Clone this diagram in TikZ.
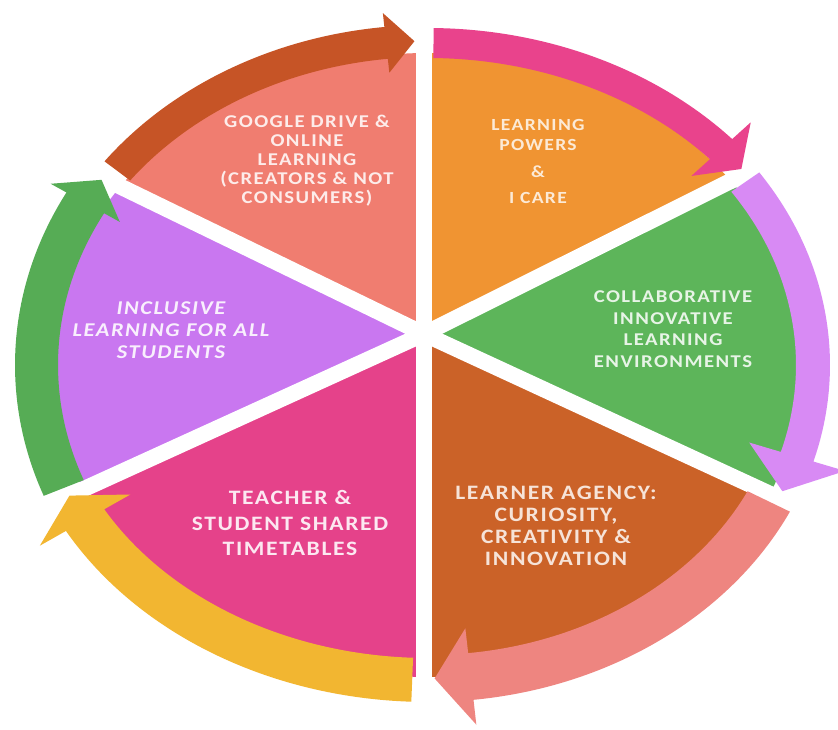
\documentclass[tikz,border=0pt]{standalone}
\usepackage{fontspec}
\newfontfamily\lblfont[LetterSpace=8, FakeStretch=1.15]{Carlito}

\definecolor{googlecol}{HTML}{F07D70}
\definecolor{powercol}{HTML}{F09432}
\definecolor{collabcol}{HTML}{5DB55A}
\definecolor{agencycol}{HTML}{CB6228}
\definecolor{timecol}{HTML}{E5428A}
\definecolor{inclcol}{HTML}{C977F0}
\definecolor{brownarrow}{HTML}{C65426}
\definecolor{magentaarrow}{HTML}{E9438C}
\definecolor{violetarrow}{HTML}{D88AF4}
\definecolor{salmonarrow}{HTML}{EE8580}
\definecolor{yellowarrow}{HTML}{F2B631}
\definecolor{greenarrow}{HTML}{56AC55}
\colorlet{googletext}{googlecol!15!white}
\colorlet{powertext}{powercol!20!white}
\colorlet{collabtext}{collabcol!15!white}
\colorlet{agencytext}{agencycol!18!white}
\colorlet{timetext}{timecol!12!white}
\colorlet{incltext}{inclcol!12!white}

% colour, inner x radius, inner y radius, width, head overhang, tail angle, tip angle, head base angle
\newcommand{\ringarrow}[8]{%
  \pgfmathsetmacro{\ax}{#2+#4}\pgfmathsetmacro{\ay}{#3+#4}%
  \pgfmathsetmacro{\mx}{#2+#4/2}\pgfmathsetmacro{\my}{#3+#4/2}%
  \pgfmathsetmacro{\hx}{#2-#5}\pgfmathsetmacro{\hy}{#3-#5}%
  \pgfmathsetmacro{\kx}{#2+#4+#5}\pgfmathsetmacro{\ky}{#3+#4+#5}%
  \fill[#1] ({#2*cos(#6)},{#3*sin(#6)})
    arc[start angle=#6, end angle=#8, x radius=#2, y radius=#3]
    -- ({\hx*cos(#8)},{\hy*sin(#8)}) -- ({\mx*cos(#7)},{\my*sin(#7)})
    -- ({\kx*cos(#8)},{\ky*sin(#8)}) -- ({\ax*cos(#8)},{\ay*sin(#8)})
    arc[start angle=#8, end angle=#6, x radius=\ax, y radius=\ay] -- cycle;}

\begin{document}
\begin{tikzpicture}[x=1pt, y=1pt,
    gapline/.style={white, line width=16pt},
    lbl/.style 2 args={align=center, font=\lblfont\bfseries\fontsize{#1}{#2}\selectfont},
    lblit/.style 2 args={align=center, font=\lblfont\bfseries\itshape\fontsize{#1}{#2}\selectfont}
    ]
  \useasboundingbox (-428,-365) rectangle (410,365);
  \fill[white] (-428,-365) rectangle (410,365);
  \coordinate (J) at (-4,31);

  % the six slices
  \begin{scope}
    \clip (0,0) ellipse [x radius=375, y radius=312];
    \fill[googlecol] (J) -- +(90:600) -- +(154.1:600) -- cycle;
    \fill[powercol] (J) -- +(26.5:600) -- +(90:600) -- cycle;
    \fill[collabcol] (J) -- +(-24.8:600) -- +(26.5:600) -- cycle;
    \fill[agencycol] (J) -- +(-90:600) -- +(-24.8:600) -- cycle;
    \fill[timecol] (J) -- +(204.5:600) -- +(270:600) -- cycle;
    \fill[inclcol] (J) -- +(154.1:600) -- +(204.5:600) -- cycle;
  \end{scope}
  \foreach \dir in {90,26.5,-24.8,-90,204.5,154.1}
    \draw[gapline] (J) -- +(\dir:420);

  % curved arrows round the rim
  \ringarrow{brownarrow}{372}{308}{32}{14}{143.2}{92}{96.2}
  \ringarrow{magentaarrow}{380}{307}{30}{25}{89.2}{37.5}{42.1}
  \ringarrow{violetarrow}{368}{306}{34}{33}{34.5}{-23}{-16.5}
  \ringarrow{salmonarrow}{355}{290}{47}{25}{-25.8}{-89}{-83.5}
  \ringarrow{yellowarrow}{372}{293}{44}{30}{267.7}{204.5}{209.5}
  \ringarrow{greenarrow}{370}{314}{43}{18}{201.5}{146.5}{151.1}

  \node[lbl={18}{19}, text=googletext] (google) at (-121,204)
    {GOOGLE DRIVE \&\\ONLINE\\LEARNING\\(CREATORS \& NOT\\CONSUMERS)};
  \node[lbl={17}{20}, text=powertext] (powers) at (110,204)
    {LEARNING\\POWERS\\[7pt]\&\\[6pt]I CARE};
  \node[lbl={18}{21.5}, text=collabtext] (collab) at (245,36)
    {COLLABORATIVE\\INNOVATIVE\\LEARNING\\ENVIRONMENTS};
  \node[lbl={20.5}{22}, text=agencytext] (agency) at (128,-161)
    {LEARNER AGENCY:\\CURIOSITY,\\CREATIVITY \&\\INNOVATION};
  \node[lbl={20.5}{25.5}, text=timetext] (timetable) at (-138,-158)
    {TEACHER \&\\STUDENT SHARED\\TIMETABLES};
  \node[lblit={19.5}{22}, text=incltext] (inclusive) at (-257,35)
    {INCLUSIVE\\LEARNING FOR ALL\\STUDENTS};
\end{tikzpicture}
\end{document}
